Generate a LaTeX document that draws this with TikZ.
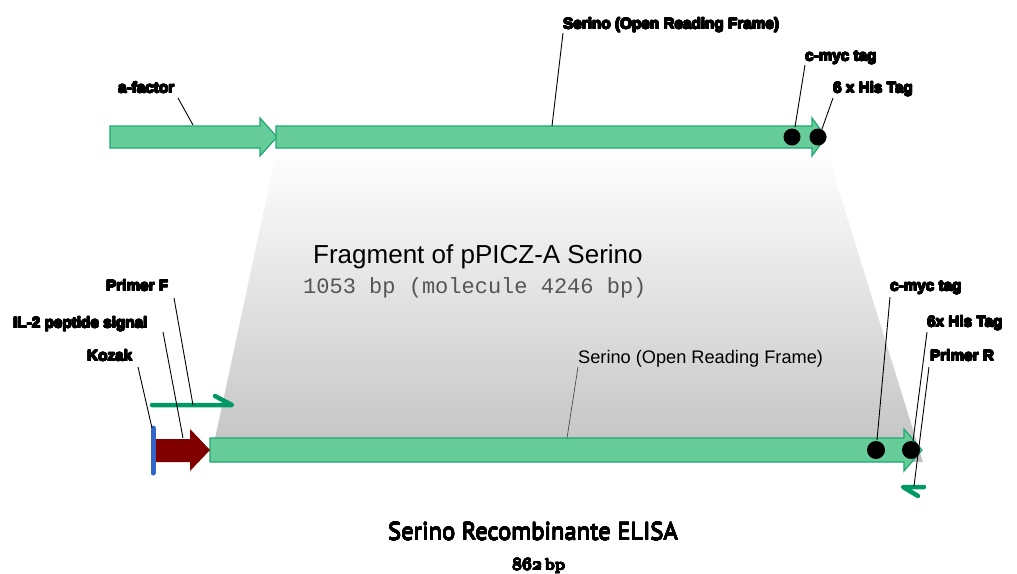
\documentclass[tikz,border=0pt]{standalone}
\usepackage{fontspec}
\newfontfamily\labelfont{Liberation Sans Bold}
\newfontfamily\plainfont{Liberation Sans}
\newfontfamily\codefont{Liberation Mono}
\newfontfamily\titlefont{PT Sans}
\newfontfamily\lmbold{lmroman10-bold}[Extension=.otf]
\newif\ifhavecontour
\IfFileExists{contour.sty}{\havecontourtrue}{}
\ifhavecontour
  \usepackage{contour}
  \contourlength{0.5pt}
  \contournumber{16}
\fi
\newcommand\heavytext[1]{\ifhavecontour\contour{black}{#1}\else#1\fi}
\newcommand\firmtext[1]{\ifhavecontour{\contourlength{0.25pt}\contour{black}{#1}}\else#1\fi}
\usetikzlibrary{shadings}

\definecolor{orfgreen}{HTML}{66CC99}
\definecolor{orfedge}{HTML}{1FA872}
\definecolor{primergreen}{HTML}{009966}
\definecolor{sigred}{HTML}{800000}
\definecolor{kozakblue}{HTML}{3366CC}
\definecolor{bpgray}{HTML}{555555}

\begin{document}
\begin{tikzpicture}[x=1pt,y=-1pt,
  gene/.style={fill=orfgreen, draw=orfedge, line width=1.2pt, line join=miter},
  tagdot/.style={circle, fill=black, inner sep=0pt, minimum size=#1},
  leader/.style={draw=black, line width=0.9pt},
  lab/.style={inner sep=0pt, anchor=base west, font=\labelfont\fontsize{15.3}{17}\selectfont},
  primer/.style={draw=primergreen, line width=4.5pt, line cap=round, line join=round},
]
\useasboundingbox (0,0) rectangle (1017,573);

% fragment projection between the two constructs
\shade[top color=white, bottom color=gray!48]
  (277,149) -- (826,149) -- (923,462) -- (210,462) -- cycle;

% upper construct: alpha-factor signal and Serino ORF
\draw[gene] (110,126) -- (260,126) -- (260,118) -- (277,137) -- (260,156) -- (260,148) -- (110,148) -- cycle;
\draw[gene] (276,126) -- (812,126) -- (812,118) -- (826,137) -- (812,156) -- (812,148) -- (276,148) -- cycle;
\node[tagdot=17pt] (mycA) at (792,137) {};
\node[tagdot=17pt] (hisA) at (818,137) {};

% lower construct: Kozak, IL-2 signal and Serino ORF
\draw[gene] (210,438) -- (904,438) -- (904,429) -- (922,450) -- (904,471) -- (904,462) -- (210,462) -- cycle;
\fill[sigred] (155,439) -- (190,439) -- (190,429) -- (210,450) -- (190,471) -- (190,462) -- (155,462) -- cycle;
\draw[kozakblue, line width=5pt, line cap=round] (153,428) -- (153,473);
\node[tagdot=18pt] (mycB) at (876,450) {};
\node[tagdot=18pt] (hisB) at (911,450) {};

% primers
\draw[primer] (152,405) -- (232,405) -- (215,396);
\draw[primer] (924,487) -- (903,487) -- (918,496);

% labels of the upper construct
\node[lab] (afac) at (118,93) {\heavytext{a-factor}};
\node[lab] (orfA) at (563,29) {\heavytext{Serino (Open Reading Frame)}};
\node[lab] (mycAl) at (805,61) {\heavytext{c-myc tag}};
\node[lab] (hisAl) at (833,93) {\heavytext{6 x His Tag}};

% labels of the lower construct
\node[lab] (primF) at (106,291) {\heavytext{Primer F}};
\node[lab] (il2) at (13,328) {\heavytext{IL-2 peptide signal}};
\node[lab] (kozak) at (87,361) {\heavytext{Kozak}};
\node[inner sep=0pt, anchor=base west, font=\plainfont\fontsize{18.2}{20}\selectfont] (orfB) at (578,363) {Serino (Open Reading Frame)};
\node[lab] (mycBl) at (890,291) {\heavytext{c-myc tag}};
\node[lab] (hisBl) at (927,327) {\heavytext{6x His Tag}};
\node[lab] (primR) at (930,361) {\heavytext{Primer R}};

% leader lines
\coordinate (afac-e) at (193,125);
\coordinate (orfA-e) at (552,126);
\coordinate (mycA-e) at (795,127);
\coordinate (hisA-e) at (822,129);
\coordinate (primF-e) at (193,405);
\coordinate (il2-e) at (183,438);
\coordinate (kozak-e) at (152,428);
\coordinate (orfB-e) at (567,438);
\coordinate (mycB-e) at (877,440);
\coordinate (hisB-e) at (913,441);
\coordinate (primR-e) at (914,486);

\draw[leader] (178,98) -- (afac-e);
\draw[leader] (563,33) -- (orfA-e);
\draw[leader] (805,65) -- (mycA-e);
\draw[leader] (833,98) -- (hisA-e);
\draw[leader] (174,298) -- (primF-e);
\draw[leader] (163,332) -- (il2-e);
\draw[leader] (138,367) -- (kozak-e);
\draw[leader, draw=black!70, line width=0.7pt] (578,367) -- (orfB-e);
\draw[leader] (890,297) -- (mycB-e);
\draw[leader] (927,332) -- (hisB-e);
\draw[leader] (929,367) -- (primR-e);

% fragment description
\node[inner sep=0pt, anchor=base west, font=\plainfont\fontsize{26}{28}\selectfont] (frag) at (313,263) {Fragment of pPICZ-A Serino};
\node[inner sep=0pt, anchor=base west, text=bpgray, font=\codefont\fontsize{22}{24}\selectfont] (fraglen) at (303,293) {1053 bp (molecule 4246 bp)};

% product name and length
\node[inner sep=0pt, anchor=base west, font=\titlefont\fontsize{24.6}{28}\selectfont] (prod) at (388,540) {\firmtext{Serino Recombinante ELISA}};
\node[inner sep=0pt, anchor=base west, font=\lmbold\fontsize{16}{18}\selectfont] (prodlen) at (512,570) {\firmtext{{\boldmath$\mathnormal{862}$}\,bp}};
\end{tikzpicture}
\end{document}
